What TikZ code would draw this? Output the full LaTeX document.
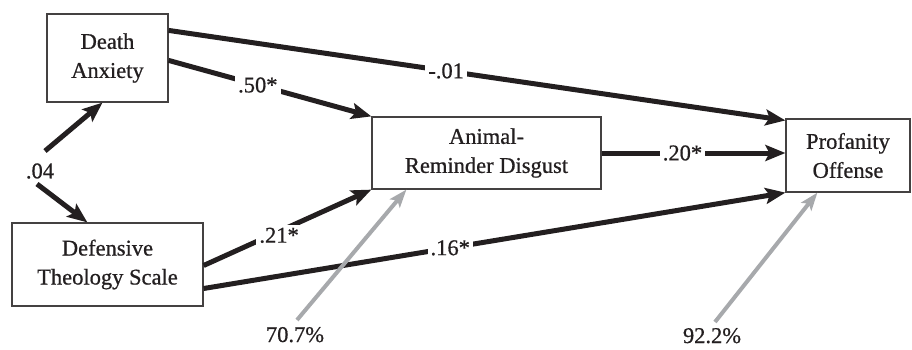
\documentclass[tikz,border=0pt]{standalone}
\usepackage{fontspec}
\setmainfont{Liberation Serif}
\newfontfamily\heavy{Liberation Serif}[FakeBold=0.7]
\usetikzlibrary{arrows.meta,calc}
\definecolor{ink}{HTML}{231F20}
\definecolor{gr}{HTML}{A7A9AC}
\tikzset{
  box/.style={draw=ink!85, line width=1.2pt, rectangle, inner sep=0pt, align=center, text=ink,
    font=\heavy\fontsize{22.5}{29}\selectfont},
  path/.style={draw=ink, line width=5pt, -{Stealth[length=20pt,width=16pt,inset=4pt]}},
  resid/.style={draw=gr, line width=4pt, -{Stealth[length=18pt,width=13pt,inset=4pt]}},
  lab/.style={fill=white, inner sep=3pt, text=ink, font=\heavy\fontsize{22.5}{26}\selectfont},
  plain/.style={inner sep=0pt, text=ink, font=\heavy\fontsize{22.5}{26}\selectfont}
}
\begin{document}
\begin{tikzpicture}[x=1pt,y=-1pt]
\useasboundingbox (0,0) rectangle (912,349);
\node[box, minimum width=121pt, minimum height=88pt] (DA) at (107.5,58) {Death\\Anxiety};
\node[box, minimum width=191pt, minimum height=83pt] (DTS) at (107.5,264.5) {Defensive\\Theology Scale};
\node[box, minimum width=229pt, minimum height=72pt] (ARD) at (486.5,153) {Animal-\\Reminder Disgust};
\node[box, minimum width=124pt, minimum height=73pt] (PO) at (848,155.5) {Profanity\\Offense};

\node[plain] (c04) at (40,171) {.04};
\coordinate (u1) at (45,151);
\coordinate (d1) at (37,184);
\coordinate (g1) at (297,320);
\coordinate (g2) at (715,322);
\node[plain, anchor=base] (p1) at (295,342) {70.7\%};
\node[plain, anchor=base] (p2) at (712,343) {92.2\%};

\draw[path] ($(DA.north east)+(0,17)$) -- node[lab,pos=0.45] {-.01} ($(PO.north west)+(0,2)$);
\draw[path] ($(DA.north east)+(0,47)$) -- node[lab,pos=0.44] {.50*} (ARD.north west);
\draw[path] ($(DTS.east)+(0,1)$) -- node[lab,pos=0.45,yshift=-4pt] {.21*} (ARD.south west);
\draw[path] ($(DTS.east)+(0,24)$) -- node[lab,pos=0.424] {.16*} (PO.south west);
\draw[path] (ARD.east) -- node[lab,pos=0.44] {.20*} (ARD.east -| PO.west);
\draw[path] (u1) -- ($(DA.south)+(-5,0)$);
\draw[path] (d1) -- ($(DTS.north west)+(76,0)$);
\draw[resid] (g1) -- ($(ARD.south west)+(35,0)$);
\draw[resid] (g2) -- ($(PO.south west)+(32,0)$);
\end{tikzpicture}
\end{document}
